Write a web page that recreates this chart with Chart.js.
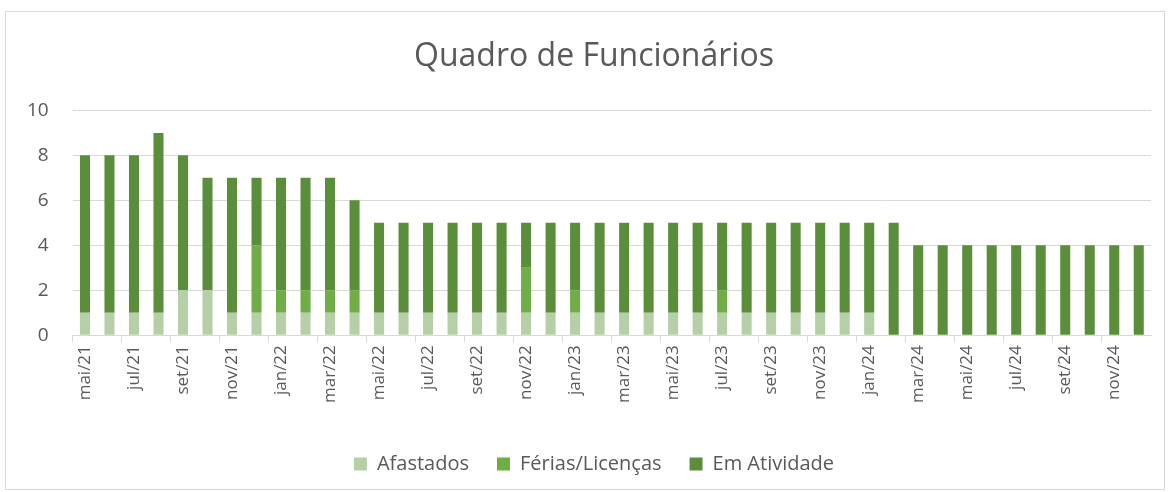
<!DOCTYPE html>
<html>
<head>
<meta charset="utf-8">
<script src="https://cdn.jsdelivr.net/npm/chart.js@4"></script>
<style>
  html, body { margin: 0; padding: 0; background: #fff; }
  #wrap { width: 1171px; height: 492px; }
</style>
</head>
<body>
<div id="wrap"><canvas id="quadro" width="1171" height="492"></canvas></div>
<script>
// months from mai/21 to dez/24
var meses = [
  'mai/21','jun/21','jul/21','ago/21','set/21','out/21','nov/21','dez/21',
  'jan/22','fev/22','mar/22','abr/22','mai/22','jun/22','jul/22','ago/22','set/22','out/22','nov/22','dez/22',
  'jan/23','fev/23','mar/23','abr/23','mai/23','jun/23','jul/23','ago/23','set/23','out/23','nov/23','dez/23',
  'jan/24','fev/24','mar/24','abr/24','mai/24','jun/24','jul/24','ago/24','set/24','out/24','nov/24','dez/24'
];

var afastados = [
  1,1,1,1,2,2,1,1,
  1,1,1,1,1,1,1,1,1,1,1,1,
  1,1,1,1,1,1,1,1,1,1,1,1,
  1,0,0,0,0,0,0,0,0,0,0,0
];
var ferias = [
  0,0,0,0,0,0,0,3,
  1,1,1,1,0,0,0,0,0,0,2,0,
  1,0,0,0,0,0,1,0,0,0,0,0,
  0,0,0,0,0,0,0,0,0,0,0,0
];
var emAtividade = [
  7,7,7,8,6,5,6,3,
  5,5,5,4,4,4,4,4,4,4,2,4,
  3,4,4,4,4,4,3,4,4,4,4,4,
  4,5,4,4,4,4,4,4,4,4,4,4
];

var fonte = '"Open Sans", sans-serif';
var cinza = '#595959';

// outer frame like the spreadsheet chart box
var moldura = {
  id: 'moldura',
  beforeDraw: function (chart) {
    var c = chart.ctx;
    c.save();
    c.fillStyle = '#fff';
    c.fillRect(0, 0, chart.width, chart.height);
    c.strokeStyle = '#d9d9d9';
    c.lineWidth = 1;
    c.strokeRect(5.5, 11.5, 1159, 478);
    c.restore();
  }
};

// the y axis is narrowed so title/legend sit a bit right; widen its label clip again
var eixoY = {
  id: 'eixoY',
  afterLayout: function (chart) {
    chart.scales.y.left = 0;
  }
};

var ctx = document.getElementById('quadro').getContext('2d');
var grafico = new Chart(ctx, {
  type: 'bar',
  data: {
    labels: meses,
    datasets: [
      { label: 'Afastados', data: afastados, backgroundColor: '#b5cfa7' },
      { label: 'Férias/Licenças', data: ferias, backgroundColor: '#70ad47' },
      { label: 'Em Atividade', data: emAtividade, backgroundColor: '#5b8e3a' }
    ]
  },
  options: {
    responsive: false,
    animation: false,
    layout: { padding: { left: 37, right: 20, top: 0, bottom: 8 } },
    datasets: { bar: { categoryPercentage: 1, barPercentage: 0.41 } },
    plugins: {
      title: {
        display: true,
        text: 'Quadro de Funcionários',
        color: cinza,
        font: { family: fonte, size: 32, weight: 'normal' },
        padding: { top: 38, bottom: 34 }
      },
      legend: {
        position: 'bottom',
        labels: {
          color: cinza,
          font: { family: fonte, size: 20 },
          boxWidth: 13,
          boxHeight: 13,
          padding: 28
        }
      },
      tooltip: { enabled: false }
    },
    scales: {
      x: {
        stacked: true,
        afterFit: function (s) { s.height += 20; },
        grid: {
          offset: true,
          drawOnChartArea: false,
          tickLength: 7,
          color: function (c) { return c.index % 2 === 0 ? '#d9d9d9' : 'rgba(0,0,0,0)'; }
        },
        border: { color: '#d9d9d9' },
        ticks: {
          autoSkip: false,
          maxRotation: 90,
          minRotation: 90,
          color: cinza,
          padding: 3,
          font: { family: fonte, size: 17 },
          callback: function (v, i) { return i % 2 === 0 ? meses[i] : ''; }
        }
      },
      y: {
        stacked: true,
        min: 0,
        max: 10,
        afterFit: function (s) { s.width -= 34; },
        ticks: {
          stepSize: 2,
          color: cinza,
          padding: 24,
          font: { family: fonte, size: 19 }
        },
        grid: { color: '#d9d9d9', drawTicks: false },
        border: { display: false }
      }
    }
  },
  plugins: [moldura, eixoY]
});
</script>
</body>
</html>
